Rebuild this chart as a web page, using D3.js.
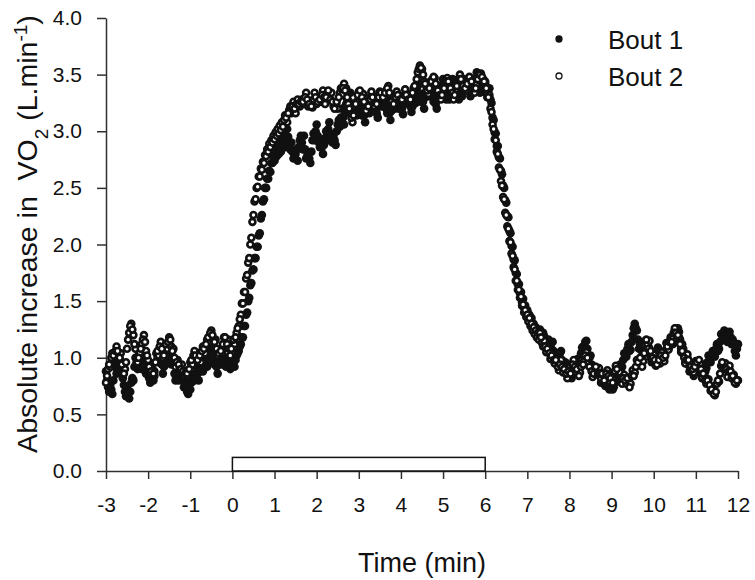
<!DOCTYPE html>
<html>
<head>
<meta charset="utf-8">
<script src="https://cdn.jsdelivr.net/npm/d3@7"></script>
<style>
  body { margin: 0; background: #ffffff; }
  svg { display: block; font-family: "Liberation Sans", Arial, Helvetica, sans-serif; }
</style>
</head>
<body>
<svg id="chart"></svg>
<script>
//--Data (VO2 increase, L/min)
//Sampling: each series is split in segments with their own start time and step (min)
//(the last three segments are the in-between samples of the rest, steady and recovery parts)
const segStarts = [-3, 0.2, 1.2, 6.1, 7.3, -2.975, 1.225, 7.325];
const segSteps = [0.05, 0.025, 0.05, 0.025, 0.05, 0.05, 0.05, 0.05];

//Bout 1 (filled)
const bout1Pre = [
  0.88, 0.74, 0.76, 0.68, 0.92, 0.86, 1.04, 0.90, 0.82, 0.70,
  0.74, 0.64, 0.78, 0.80, 1.00, 0.90, 1.04, 0.90, 1.04, 0.86,
  0.90, 0.78, 0.86, 0.84, 1.04, 0.96, 1.06, 0.86, 1.00, 0.98,
  1.10, 0.94, 0.96, 0.80, 0.86, 0.82, 0.90, 0.74, 0.78, 0.68,
  0.72, 0.84, 0.80, 0.92, 0.80, 0.94, 0.88, 0.98, 0.92, 1.06,
  1.12, 0.96, 0.98, 0.86, 1.00, 0.94, 1.08, 0.92, 1.00, 0.90,
  1.00, 0.92, 1.02, 1.06
];
const bout1On = [
  1.12, 1.18, 1.18, 1.28, 1.28, 1.38, 1.40, 1.50, 1.53, 1.64,
  1.66, 1.77, 1.78, 1.88, 1.88, 1.98, 1.98, 2.08, 2.10, 2.23,
  2.26, 2.38, 2.40, 2.50, 2.50, 2.58, 2.58, 2.65, 2.64, 2.72,
  2.72, 2.78, 2.74, 2.84, 2.78, 2.86, 2.80, 2.90, 2.82, 2.92
];
const bout1Steady = [
  2.94, 2.86, 3.02, 2.88, 2.90, 2.76, 2.80, 2.74, 2.92, 2.90,
  2.96, 2.76, 2.80, 2.72, 2.92, 2.92, 3.06, 2.90, 2.92, 2.80,
  2.94, 2.92, 3.08, 2.94, 2.96, 2.88, 3.06, 3.04, 3.20, 3.06,
  3.24, 3.18, 3.34, 3.16, 3.20, 3.14, 3.32, 3.20, 3.22, 3.08,
  3.20, 3.16, 3.34, 3.26, 3.30, 3.12, 3.25, 3.22, 3.34, 3.20,
  3.22, 3.10, 3.25, 3.20, 3.34, 3.20, 3.27, 3.15, 3.30, 3.25,
  3.32, 3.17, 3.29, 3.25, 3.40, 3.27, 3.33, 3.20, 3.35, 3.31,
  3.44, 3.30, 3.33, 3.20, 3.35, 3.33, 3.46, 3.31, 3.35, 3.28,
  3.44, 3.40, 3.45, 3.30, 3.35, 3.31, 3.46, 3.40, 3.44, 3.31,
  3.42, 3.39, 3.52, 3.37, 3.40, 3.35, 3.42, 3.30
];
const bout1Off = [
  3.38, 3.28, 3.25, 3.12, 3.10, 2.99, 2.98, 2.87, 2.87, 2.77,
  2.76, 2.65, 2.62, 2.52, 2.50, 2.39, 2.37, 2.25, 2.24, 2.12,
  2.10, 1.99, 1.98, 1.87, 1.86, 1.75, 1.74, 1.65, 1.65, 1.57,
  1.58, 1.49, 1.52, 1.44, 1.46, 1.39, 1.42, 1.35, 1.38, 1.31,
  1.35, 1.27, 1.30, 1.24, 1.27, 1.21, 1.24, 1.17
];
const bout1Rec = [
  1.25, 1.17, 1.19, 1.14, 1.16, 1.04, 1.14, 1.01, 1.04, 1.00,
  1.06, 0.92, 0.96, 0.90, 0.94, 0.82, 0.92, 0.88, 0.99, 0.96,
  1.09, 1.06, 1.15, 1.01, 1.02, 0.88, 0.92, 0.86, 0.90, 0.78,
  0.84, 0.75, 0.79, 0.72, 0.78, 0.74, 0.84, 0.81, 0.94, 0.92,
  1.04, 1.01, 1.12, 1.07, 1.20, 1.30, 1.24, 1.08, 1.08, 1.04,
  1.15, 1.06, 1.08, 0.96, 1.02, 0.98, 1.09, 0.96, 1.02, 1.00,
  1.13, 1.08, 1.12, 1.12, 1.24, 1.22, 1.23, 1.08, 1.08, 0.96,
  1.00, 0.88, 0.94, 0.84, 0.94, 0.88, 0.92, 0.82, 0.94, 0.91,
  1.02, 0.96, 1.06, 1.01, 1.12, 1.08, 1.21, 1.19, 1.23, 1.14,
  1.23, 1.12, 1.12, 1.02, 1.12
];
const bout1PreMid = [
  0.80, 0.70, 0.72, 0.80, 0.96, 0.95, 0.98, 0.86, 0.76, 0.66,
  0.70, 0.70, 0.82, 0.92, 0.96, 0.98, 0.96, 0.98, 0.94, 0.90,
  0.82, 0.84, 0.80, 0.96, 1.00, 1.02, 0.94, 0.92, 1.04, 1.08,
  1.02, 0.98, 0.86, 0.84, 0.80, 0.86, 0.80, 0.76, 0.70, 0.72,
  0.78, 0.82, 0.86, 0.86, 0.88, 0.90, 0.94, 0.94, 1.00, 1.10,
  1.04, 0.94, 0.92, 0.94, 0.98, 1.02, 1.00, 0.96, 0.94, 0.96,
  0.96, 0.98, 1.04, 1.10
];
const bout1SteadyMid = [
  2.98, 2.92, 2.95, 2.84, 2.82, 2.78, 2.84, 2.86, 2.96, 2.84,
  2.84, 2.78, 2.76, 2.82, 2.98, 3.00, 2.96, 2.86, 2.86, 2.88,
  3.00, 3.02, 2.98, 2.90, 2.92, 3.00, 3.10, 3.12, 3.12, 3.16,
  3.28, 3.26, 3.22, 3.18, 3.24, 3.26, 3.24, 3.14, 3.14, 3.16,
  3.26, 3.30, 3.28, 3.20, 3.16, 3.22, 3.30, 3.28, 3.26, 3.16,
  3.16, 3.18, 3.28, 3.30, 3.26, 3.22, 3.20, 3.24, 3.30, 3.28,
  3.22, 3.22, 3.32, 3.36, 3.30, 3.26, 3.26, 3.30, 3.38, 3.40,
  3.36, 3.26, 3.24, 3.28, 3.40, 3.40, 3.34, 3.28, 3.32, 3.38,
  3.46, 3.38, 3.34, 3.28, 3.38, 3.44, 3.42, 3.38, 3.35, 3.40,
  3.46, 3.46, 3.40, 3.34, 3.42, 3.40, 3.34, 3.36
];
const bout1RecMid = [
  1.20, 1.22, 1.12, 1.12, 1.10, 1.08, 1.06, 1.04, 0.98, 1.04,
  0.98, 0.96, 0.90, 0.92, 0.86, 0.88, 0.90, 0.96, 0.98, 1.04,
  1.10, 1.14, 1.08, 1.00, 0.94, 0.92, 0.88, 0.88, 0.84, 0.82,
  0.78, 0.76, 0.74, 0.76, 0.72, 0.78, 0.82, 0.88, 0.88, 0.98,
  1.02, 1.08, 1.06, 1.14, 1.26, 1.26, 1.16, 1.12, 1.02, 1.10,
  1.10, 1.10, 1.00, 1.00, 0.98, 1.04, 1.02, 1.00, 1.00, 1.06,
  1.12, 1.14, 1.16, 1.20, 1.26, 1.26, 1.16, 1.12, 1.02, 1.00,
  0.94, 0.94, 0.88, 0.90, 0.90, 0.90, 0.86, 0.88, 0.88, 0.96,
  0.98, 1.02, 1.02, 1.08, 1.06, 1.14, 1.16, 1.24, 1.20, 1.20,
  1.18, 1.16, 1.06, 1.08
];

//Bout 2 (open)
const bout2Pre = [
  0.78, 0.90, 0.92, 1.04, 1.00, 1.10, 1.02, 1.04, 0.86, 0.90,
  1.08, 1.22, 1.30, 1.20, 1.08, 0.96, 1.04, 1.12, 1.20, 1.06,
  0.98, 0.86, 0.90, 0.88, 1.04, 1.02, 1.14, 1.00, 1.06, 1.08,
  1.18, 1.10, 1.08, 0.92, 0.98, 0.92, 0.94, 0.84, 0.88, 0.84,
  0.96, 0.94, 1.06, 0.98, 1.00, 0.96, 1.10, 1.04, 1.16, 1.14,
  1.24, 1.16, 1.16, 1.02, 1.06, 1.04, 1.18, 1.14, 1.16, 1.02,
  1.12, 1.12, 1.22, 1.28
];
const bout2On = [
  1.38, 1.48, 1.48, 1.58, 1.58, 1.70, 1.73, 1.84, 1.88, 2.00,
  2.06, 2.20, 2.26, 2.38, 2.40, 2.50, 2.51, 2.60, 2.60, 2.67,
  2.66, 2.73, 2.72, 2.79, 2.78, 2.84, 2.82, 2.89, 2.86, 2.92,
  2.90, 2.96, 2.93, 2.99, 2.96, 3.02, 2.98, 3.05, 3.01, 3.08
];
const bout2Steady = [
  3.04, 3.14, 3.08, 3.19, 3.16, 3.26, 3.16, 3.28, 3.22, 3.28,
  3.24, 3.34, 3.22, 3.26, 3.21, 3.34, 3.24, 3.28, 3.26, 3.36,
  3.24, 3.34, 3.31, 3.34, 3.22, 3.24, 3.20, 3.34, 3.32, 3.42,
  3.38, 3.24, 3.18, 3.08, 3.22, 3.26, 3.35, 3.32, 3.33, 3.19,
  3.20, 3.22, 3.35, 3.25, 3.25, 3.23, 3.35, 3.32, 3.33, 3.34,
  3.40, 3.28, 3.27, 3.25, 3.35, 3.27, 3.29, 3.27, 3.37, 3.27,
  3.27, 3.28, 3.38, 3.40, 3.52, 3.58, 3.55, 3.44, 3.40, 3.33,
  3.42, 3.46, 3.47, 3.36, 3.37, 3.28, 3.37, 3.38, 3.47, 3.40,
  3.38, 3.28, 3.37, 3.40, 3.50, 3.43, 3.42, 3.36, 3.46, 3.46,
  3.44, 3.34, 3.42, 3.45, 3.51, 3.46, 3.44, 3.33
];
const bout2Off = [
  3.32, 3.20, 3.17, 3.06, 3.02, 2.93, 2.92, 2.82, 2.80, 2.68,
  2.66, 2.56, 2.52, 2.42, 2.40, 2.28, 2.26, 2.16, 2.14, 2.03,
  2.02, 1.92, 1.90, 1.80, 1.78, 1.68, 1.68, 1.60, 1.60, 1.53,
  1.54, 1.46, 1.47, 1.40, 1.42, 1.36, 1.38, 1.32, 1.35, 1.28,
  1.30, 1.24, 1.27, 1.21, 1.24, 1.18, 1.22, 1.16
];
const bout2Rec = [
  1.22, 1.13, 1.15, 1.05, 1.09, 0.99, 1.03, 0.95, 0.98, 0.89,
  0.98, 0.87, 0.91, 0.82, 0.91, 0.89, 0.98, 0.87, 0.89, 0.87,
  0.98, 0.97, 1.05, 0.95, 0.93, 0.83, 0.91, 0.89, 0.91, 0.82,
  0.85, 0.81, 0.89, 0.79, 0.83, 0.81, 0.93, 0.85, 0.87, 0.77,
  0.85, 0.77, 0.79, 0.77, 0.89, 0.87, 0.98, 0.95, 0.97, 0.97,
  1.11, 1.12, 1.15, 1.02, 1.03, 0.93, 0.97, 0.95, 1.05, 0.97,
  1.08, 1.07, 1.18, 1.17, 1.26, 1.17, 1.18, 1.05, 1.05, 0.95,
  1.03, 0.93, 0.95, 0.87, 0.97, 0.95, 0.95, 0.83, 0.85, 0.77,
  0.81, 0.71, 0.73, 0.67, 0.77, 0.79, 0.93, 0.93, 0.95, 0.83,
  0.93, 0.82, 0.85, 0.77, 0.80
];
const bout2PreMid = [
  0.84, 0.94, 1.00, 1.02, 1.06, 1.06, 1.00, 0.94, 0.86, 0.96,
  1.16, 1.28, 1.25, 1.12, 1.00, 1.00, 1.08, 1.16, 1.14, 1.02,
  0.92, 0.88, 0.86, 0.96, 1.06, 1.10, 1.08, 1.02, 1.12, 1.14,
  1.16, 1.06, 1.00, 0.96, 0.94, 0.90, 0.88, 0.86, 0.86, 0.90,
  0.98, 1.02, 1.02, 0.98, 1.02, 1.06, 1.08, 1.12, 1.18, 1.22,
  1.20, 1.14, 1.08, 1.04, 1.06, 1.12, 1.18, 1.12, 1.08, 1.08,
  1.16, 1.18, 1.26, 1.34
];
const bout2SteadyMid = [
  3.10, 3.12, 3.16, 3.22, 3.22, 3.20, 3.24, 3.24, 3.26, 3.26,
  3.30, 3.28, 3.24, 3.22, 3.28, 3.30, 3.26, 3.28, 3.32, 3.30,
  3.30, 3.36, 3.28, 3.26, 3.20, 3.26, 3.30, 3.38, 3.38, 3.36,
  3.30, 3.20, 3.12, 3.14, 3.24, 3.32, 3.36, 3.30, 3.26, 3.18,
  3.22, 3.28, 3.30, 3.22, 3.24, 3.30, 3.34, 3.30, 3.34, 3.38,
  3.34, 3.26, 3.24, 3.30, 3.32, 3.28, 3.28, 3.32, 3.32, 3.28,
  3.28, 3.34, 3.40, 3.46, 3.55, 3.56, 3.50, 3.42, 3.36, 3.38,
  3.44, 3.48, 3.42, 3.36, 3.32, 3.32, 3.38, 3.44, 3.44, 3.38,
  3.34, 3.32, 3.40, 3.46, 3.46, 3.40, 3.38, 3.42, 3.48, 3.44,
  3.38, 3.38, 3.46, 3.50, 3.48, 3.44, 3.38, 3.30
];
const bout2RecMid = [
  1.18, 1.10, 1.10, 1.08, 1.04, 1.02, 0.98, 0.98, 0.92, 0.94,
  0.92, 0.90, 0.86, 0.88, 0.86, 0.94, 0.92, 0.90, 0.84, 0.92,
  0.94, 1.02, 1.00, 0.92, 0.88, 0.86, 0.92, 0.86, 0.86, 0.86,
  0.80, 0.86, 0.84, 0.82, 0.78, 0.88, 0.90, 0.82, 0.82, 0.82,
  0.80, 0.82, 0.74, 0.84, 0.84, 0.92, 0.96, 1.00, 0.92, 1.04,
  1.16, 1.08, 1.06, 1.00, 0.98, 0.94, 0.98, 1.02, 1.00, 1.02,
  1.10, 1.14, 1.14, 1.22, 1.22, 1.20, 1.12, 1.06, 1.00, 0.98,
  0.98, 0.92, 0.90, 0.92, 0.96, 0.98, 0.90, 0.86, 0.80, 0.80,
  0.76, 0.72, 0.68, 0.70, 0.80, 0.86, 0.96, 0.90, 0.90, 0.88,
  0.88, 0.84, 0.78, 0.80
];

//Exercise bar (min) and its height (L/min)
const exerciseBout = [0, 6];
const exerciseBarHeight = 0.12;

//Ticks and labels
const xTicks = [-3, -2, -1, 0, 1, 2, 3, 4, 5, 6, 7, 8, 9, 10, 11, 12];
const yTicks = [0, 0.5, 1.0, 1.5, 2.0, 2.5, 3.0, 3.5, 4.0];
const seriesNames = ["Bout 1", "Bout 2"];

//--Shared info
var canvas = {
  width: 755,
  height: 580,
  ink: "#111111",
  axis: "#303030"
};
canvas.x = d3.scaleLinear().domain([-3, 12]).range([106, 738]);
canvas.y = d3.scaleLinear().domain([0, 4]).range([471, 18]);

function toPoints(segments) {
  let pts = [];
  segments.forEach((vals, s) => {
    vals.forEach((v, i) => pts.push([segStarts[s] + i * segSteps[s], v]));
  });
  return pts;
}

let bout1 = toPoints([bout1Pre, bout1On, bout1Steady, bout1Off, bout1Rec, bout1PreMid, bout1SteadyMid, bout1RecMid]);
let bout2 = toPoints([bout2Pre, bout2On, bout2Steady, bout2Off, bout2Rec, bout2PreMid, bout2SteadyMid, bout2RecMid]);

//Setup root element
let root = d3
  .select("#chart")
  .attr("width", canvas.width)
  .attr("height", canvas.height)
  .style("background-color", "#FFFFFF");

//--Axes
let xAxis = root
  .append("g")
  .attr("transform", "translate(0," + canvas.y(0) + ")")
  .call(
    d3.axisBottom(canvas.x)
      .tickValues(xTicks)
      .tickFormat(d => String(d))
      .tickSize(8)
      .tickSizeOuter(0)
      .tickPadding(18)
  );
let yAxis = root
  .append("g")
  .attr("transform", "translate(" + canvas.x(-3) + ",0)")
  .call(
    d3.axisLeft(canvas.y)
      .tickValues(yTicks)
      .tickFormat(d => d.toFixed(1))
      .tickSize(9)
      .tickSizeOuter(0)
      .tickPadding(15)
  );
[xAxis, yAxis].forEach(g => {
  g.select(".domain").attr("stroke", canvas.axis).attr("stroke-width", 1.5);
  g.selectAll(".tick line").attr("stroke", canvas.axis).attr("stroke-width", 1.5);
  g.selectAll(".tick text")
    .attr("fill", canvas.ink)
    .style("font-size", "21px")
    .style("font-family", '"Liberation Sans", Arial, sans-serif');
});

//Exercise bar
root
  .append("rect")
  .attr("x", canvas.x(exerciseBout[0]))
  .attr("y", canvas.y(exerciseBarHeight))
  .attr("width", canvas.x(exerciseBout[1]) - canvas.x(exerciseBout[0]))
  .attr("height", canvas.y(0) - canvas.y(exerciseBarHeight))
  .attr("fill", "#FFFFFF")
  .attr("stroke", canvas.ink)
  .attr("stroke-width", 1.5);

//--Scatter plot
root
  .append("g")
  .classed("bout1", true)
  .selectAll("circle")
  .data(bout1)
  .enter()
  .append("circle")
  .attr("cx", d => canvas.x(d[0]))
  .attr("cy", d => canvas.y(d[1]))
  .attr("r", 4.3)
  .attr("fill", canvas.ink)
  .attr("stroke", "none");
root
  .append("g")
  .classed("bout2", true)
  .selectAll("circle")
  .data(bout2)
  .enter()
  .append("circle")
  .attr("cx", d => canvas.x(d[0]))
  .attr("cy", d => canvas.y(d[1]))
  .attr("r", 3)
  .attr("fill", "#FFFFFF")
  .attr("stroke", canvas.ink)
  .attr("stroke-width", 2.6);

//--Legend
let legend = root
  .append("g")
  .selectAll("g")
  .data(seriesNames)
  .enter()
  .append("g")
  .attr("transform", (d, i) => "translate(559," + (39 + i * 37) + ")");
legend
  .append("circle")
  .attr("r", 3)
  .attr("fill", (d, i) => (i === 0 ? canvas.ink : "#FFFFFF"))
  .attr("stroke", canvas.ink)
  .attr("stroke-width", 1.3);
legend
  .append("text")
  .attr("x", 49)
  .attr("y", 10)
  .attr("fill", canvas.ink)
  .style("font-size", "26px")
  .text(d => d);

//--Axis titles
root
  .append("text")
  .attr("x", canvas.x(4.5))
  .attr("y", 572)
  .attr("text-anchor", "middle")
  .attr("fill", canvas.ink)
  .style("font-size", "27px")
  .text("Time (min)");

let yTitle = root
  .append("text")
  .attr("transform", "translate(37,234) rotate(-90)")
  .attr("text-anchor", "middle")
  .attr("fill", canvas.ink)
  .style("font-size", "28.5px")
  .attr("xml:space", "preserve");
yTitle.append("tspan").text("Absolute increase in  VO");
yTitle.append("tspan").attr("baseline-shift", "sub").style("font-size", "19px").text("2");
yTitle.append("tspan").text(" (L.min");
yTitle.append("tspan").attr("baseline-shift", "super").style("font-size", "19px").text("-1");
yTitle.append("tspan").text(")");
</script>
</body>
</html>
